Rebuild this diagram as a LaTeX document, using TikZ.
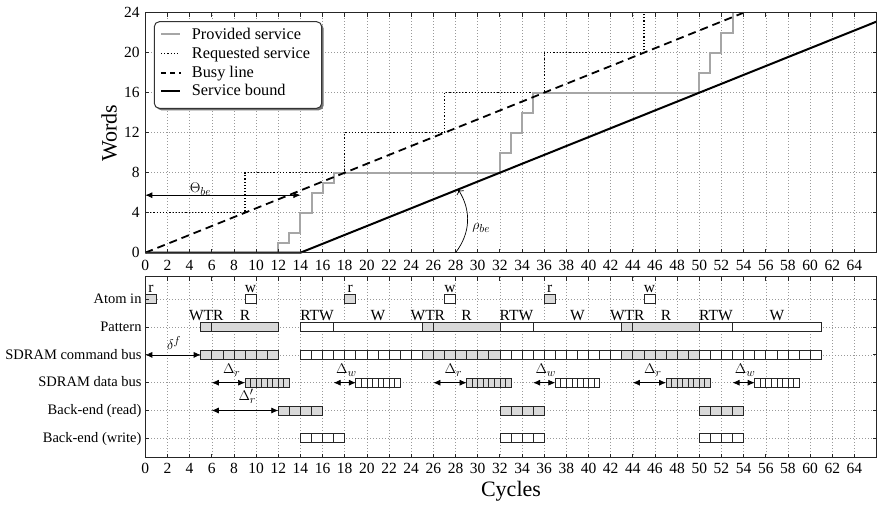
\RequirePackage{fix-cm}
\documentclass[tikz,border=0pt]{standalone}
\usepackage{fontspec}
\setmainfont{Liberation Serif}
\DeclareMathSizes{14}{14}{11.5}{8}
\usetikzlibrary{arrows.meta}
\begin{document}
\begin{tikzpicture}[x=1pt,y=1pt,
  gridline/.style={black!40, line width=0.5pt, dash pattern=on 0.8pt off 2.2pt},
  frameline/.style={black!85, line width=1.1pt},
  tickmark/.style={black!85, line width=0.8pt},
  numlabel/.style={font=\fontsize{15.5}{18}\selectfont, inner sep=0pt},
  rowlabel/.style={font=\fontsize{14.5}{17}\selectfont, inner sep=0pt, anchor=base east},
  leglabel/.style={font=\fontsize{16.3}{19}\selectfont, inner sep=0pt, anchor=base west},
  boxlabel/.style={font=\fontsize{15.5}{18}\selectfont, inner sep=0pt, anchor=base},
  mathlabel/.style={font=\fontsize{14}{16}\selectfont, inner sep=0pt, anchor=base west},
  axislabel/.style={font=\fontsize{22}{25}\selectfont, inner sep=0pt, anchor=base},
  provided/.style={black!35, line width=2pt},
  requested/.style={black, line width=1.2pt, dash pattern=on 1.2pt off 2pt},
  busy/.style={black, line width=1.8pt, dash pattern=on 8pt off 5pt},
  bound/.style={black, line width=2pt},
  graybox/.style={draw=black!85, fill=black!15, line width=0.7pt},
  whitebox/.style={draw=black!85, fill=white, line width=0.7pt},
  dimarrow/.style={black, line width=0.7pt, {Latex[length=7pt,width=6pt]}-{Latex[length=7pt,width=6pt]}},
]
\useasboundingbox (0,0) rectangle (878,508);

% ---------------- service curves (cycles vs. words) ----------------
\begin{scope}[shift={(145.3,255.3)}, x=11.08pt, y=10pt]
  \foreach \c in {2,4,...,64} \draw[gridline] (\c,0) -- (\c,24);
  \foreach \w in {4,8,...,20} \draw[gridline] (0,\w) -- (66,\w);

  \draw[requested] (0,0) -- (0,4) -- (9,4) -- (9,8) -- (18,8) -- (18,12) -- (27,12)
    -- (27,16) -- (36,16) -- (36,20) -- (45,20) -- (45,24);
  \draw[provided] (12,0) -- (12,1) -- (13,1) -- (13,2) -- (14,2) -- (14,4) -- (15,4)
    -- (15,6) -- (16,6) -- (16,7) -- (17,7) -- (17,8) -- (32,8) -- (32,10) -- (33,10)
    -- (33,12) -- (34,12) -- (34,14) -- (35,14) -- (35,16) -- (50,16) -- (50,18)
    -- (51,18) -- (51,20) -- (52,20) -- (52,22) -- (53,22) -- (53,24);
  \draw[busy] (0,0) -- (54,24);
  \draw[bound] (0,0) -- (14,0) -- (66,23.111);

  \foreach \c in {2,4,...,64} {
    \draw[tickmark] (\c,0) -- ++(0,4pt);
    \draw[tickmark] (\c,24) -- ++(0,-4pt);
  }
  \foreach \w in {4,8,...,20} {
    \draw[tickmark] (0,\w) -- ++(4pt,0);
    \draw[tickmark] (66,\w) -- ++(-4pt,0);
  }
  \draw[frameline] (0,0) rectangle (66,24);

  \foreach \c in {0,2,...,64} \node[numlabel, yshift=-12.3pt] (tx\c) at (\c,0) {\c};
  \foreach \w in {0,4,...,24} \node[numlabel, anchor=east, xshift=-5.5pt] (ty\w) at (0,\w) {\w};

  % latency and rate annotations
  \coordinate (thetaL) at (0,5.75);
  \coordinate (thetaR) at (14,5.75);
  \draw[dimarrow] (thetaL) -- (thetaR);
  \node[mathlabel] (thetaLab) at (4.0,6.0) {$\Theta_{be}$};

  \coordinate (rhoA) at (28,0);
  \coordinate (rhoB) at (28.25,6.3);
  \draw[black, line width=0.7pt, -{To[length=4pt]}] (rhoA) to[bend right=35] (rhoB);
  \node[mathlabel] (rhoLab) at (29.5,2.3) {$\rho_{be}$};
\end{scope}

% ---------------- legend ----------------
\fill[black!55, rounded corners=5pt] (156.3,397.7) rectangle (323.7,484.3);
\draw[black!80, fill=white, line width=1pt, rounded corners=5pt] (154.3,399.7) rectangle (321.7,486.3);
\draw[provided]  (161,473.7) -- (180,473.7);
\draw[requested] (161,454.7) -- (180,454.7);
\draw[busy, dash pattern=on 5pt off 4pt] (161,435.3) -- (181,435.3);
\draw[bound]     (161,417.3) -- (180,417.3);
\node[leglabel] (legA) at (191.7,468.5) {Provided service};
\node[leglabel] (legB) at (191.7,449.5) {Requested service};
\node[leglabel] (legC) at (191.7,430.1) {Busy line};
\node[leglabel] (legD) at (191.7,412.1) {Service bound};

% ---------------- timeline (cycles vs. resources) ----------------
\begin{scope}[shift={(145.3,50.3)}, x=11.08pt, y=1pt]
  \def\yA{158.4}\def\yP{130.6}\def\yC{102.8}\def\yD{75.0}\def\yR{47.2}\def\yW{19.4}

  \foreach \c in {2,4,...,64} \draw[gridline] (\c,0) -- (\c,181);
  \foreach \r in {\yA,\yP,\yC,\yD,\yR,\yW} \draw[gridline] (0,\r) -- (66,\r);

  % incoming atoms
  \foreach \a in {0,18,36} {
    \draw[graybox] (\a,\yA-4.5) rectangle (\a+1,\yA+4.5);
    \node[boxlabel] (atomR\a) at (\a+0.5,\yA+6.5) {r};
  }
  \foreach \a in {9,27,45} {
    \draw[whitebox] (\a,\yA-4.5) rectangle (\a+1,\yA+4.5);
    \node[boxlabel] (atomW\a) at (\a+0.5,\yA+6.5) {w};
  }

  % access pattern
  \foreach \s/\e in {5/6,6/12,25/26,26/32,43/44,44/50}
    \draw[graybox] (\s,\yP-4.5) rectangle (\e,\yP+4.5);
  \foreach \s/\e in {14/17,17/25,32/35,35/43,50/53,53/61}
    \draw[whitebox] (\s,\yP-4.5) rectangle (\e,\yP+4.5);
  \foreach \x/\t [count=\i] in {5.5/WTR,9/R,15.5/RTW,21/W,25.5/WTR,29/R,33.5/RTW,39/W,43.5/WTR,47/R,51.5/RTW,57/W}
    \node[boxlabel] (pat\i) at (\x,\yP+6.5) {\t};

  % SDRAM command bus
  \foreach \b in {5,25,43} \foreach \k in {0,...,6}
    \draw[graybox] (\b+\k,\yC-4.5) rectangle (\b+\k+1,\yC+4.5);
  \foreach \b in {14,32,50} \foreach \k in {0,...,10}
    \draw[whitebox] (\b+\k,\yC-4.5) rectangle (\b+\k+1,\yC+4.5);

  % SDRAM data bus
  \foreach \b in {9,29,47} \foreach \k in {0,...,7}
    \draw[graybox] (\b+\k*0.5,\yD-4.5) rectangle (\b+\k*0.5+0.5,\yD+4.5);
  \foreach \b in {19,37,55} \foreach \k in {0,...,7}
    \draw[whitebox] (\b+\k*0.5,\yD-4.5) rectangle (\b+\k*0.5+0.5,\yD+4.5);

  % back-end transfers
  \foreach \b in {12,32,50} \foreach \k in {0,...,3}
    \draw[graybox] (\b+\k,\yR-4.5) rectangle (\b+\k+1,\yR+4.5);
  \foreach \b in {14,32,50} \foreach \k in {0,...,3}
    \draw[whitebox] (\b+\k,\yW-4.5) rectangle (\b+\k+1,\yW+4.5);

  % delays
  \coordinate (dfL) at (0,\yC);
  \coordinate (dfR) at (5,\yC);
  \draw[dimarrow] (dfL) -- (dfR);
  \node[mathlabel] (dfLab) at (1.95,\yC+5) {$\delta^f$};

  \foreach \s/\e/\lx/\lab [count=\i] in {6/9/7.0/r,17/19/17.2/w,26/29/27.0/r,35/37/35.2/w,44/47/45.0/r,53/55/53.2/w} {
    \coordinate (dL\i) at (\s,\yD);
    \coordinate (dR\i) at (\e,\yD);
    \draw[dimarrow] (dL\i) -- (dR\i);
    \node[mathlabel] (dLab\i) at (\lx,\yD+8.7) {$\Delta_\lab$};
  }

  \coordinate (drL) at (6,\yR);
  \coordinate (drR) at (12,\yR);
  \draw[dimarrow] (drL) -- (drR);
  \node[mathlabel] (drLab) at (8.4,\yR+10) {$\Delta'_r$};

  % frame, ticks, labels
  \foreach \c in {2,4,...,64} {
    \draw[tickmark] (\c,0) -- ++(0,4pt);
    \draw[tickmark] (\c,181) -- ++(0,-4pt);
  }
  \foreach \r in {\yA,\yP,\yC,\yD,\yR,\yW} {
    \draw[tickmark] (0,\r) -- ++(4pt,0);
    \draw[tickmark] (66,\r) -- ++(-4pt,0);
  }
  \draw[frameline] (0,0) rectangle (66,181);

  \foreach \c in {0,2,...,64} \node[numlabel, yshift=-10.5pt] (bx\c) at (\c,0) {\c};
  \foreach \r/\t [count=\i] in {\yA/Atom in,\yP/Pattern,\yC/SDRAM command bus,\yD/SDRAM data bus,\yR/Back-end (read),\yW/Back-end (write)}
    \node[rowlabel, xshift=-3.6pt] (row\i) at (0,\r-4.2) {\t};
\end{scope}

% axis titles
\node[axislabel] (cyc) at (511,11) {Cycles};
\node[axislabel, rotate=90] (wrd) at (116.7,375) {Words};
\end{tikzpicture}
\end{document}
